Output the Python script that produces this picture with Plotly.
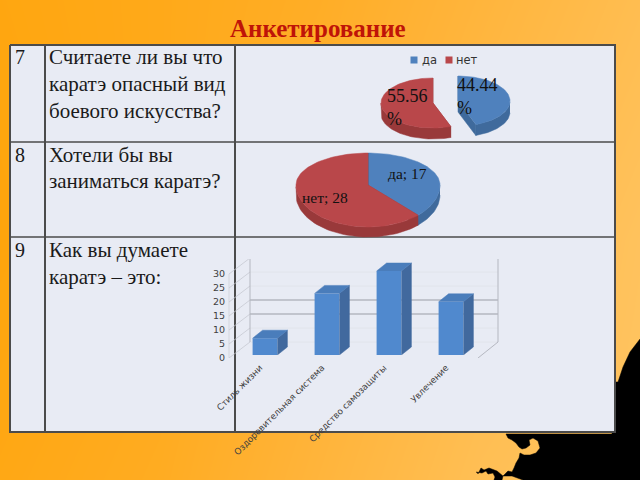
import math
import plotly.graph_objects as go

# ---------- data ----------
pie1_labels = ["да", "нет"]
pie1_values = [44.44, 55.56]
pie2_labels = ["да", "нет"]
pie2_values = [17, 28]
bar_categories = ["Стиль жизни", "Оздоровительная система", "Средство самозащиты", "Увлечение"]
bar_values = [6, 22, 30, 19]
value_ticks = [0, 5, 10, 15, 20, 25, 30]
row_numbers = ["7", "8", "9"]
row_text = [
    ["Считаете ли вы что", "каратэ опасный вид", "боевого искусства?"],
    ["Хотели бы вы", "заниматься каратэ?"],
    ["Как вы думаете", "каратэ – это:"],
]
title_text = "Анкетирование"
# background brightness, estimated on a coarse grid (rows top to bottom)
bg_levels = [
    [0.05, 0.15, 0.30, 0.55, 0.80],
    [0.00, 0.15, 0.40, 0.70, 0.95],
    [0.10, 0.25, 0.55, 0.85, 1.00],
]

W, H = 640, 480
PANEL = "#E8EBF4"
BORDER = "#4B4B4B"
BLUE, BLUE_D = "#4F81BD", "#3F6A9C"
RED, RED_D = "#B9474A", "#99393A"
BAR_F, BAR_T, BAR_S = "#5089CE", "#4A7DBB", "#41699E"
WALL = "#B4B7C0"

fig = go.Figure()


def poly(xs, ys, fill, xa="x", ya="y"):
    fig.add_trace(go.Scatter(x=xs, y=ys, mode="lines", fill="toself", fillcolor=fill,
                             line=dict(color=fill, width=0.5), xaxis=xa, yaxis=ya,
                             hoverinfo="skip", showlegend=False))


def line(xs, ys, color, width, xa="x", ya="y"):
    fig.add_trace(go.Scatter(x=xs, y=ys, mode="lines", line=dict(color=color, width=width),
                             xaxis=xa, yaxis=ya, hoverinfo="skip", showlegend=False))


# ---------- background ----------
fig.add_trace(go.Heatmap(z=bg_levels, x=[0, 160, 320, 480, 640], y=[0, 240, 480],
                         zsmooth="best", zmin=0, zmax=1, showscale=False, hoverinfo="skip",
                         colorscale=[[0, "#FFA50C"], [0.5, "#FFB338"], [1, "#FFC461"]]))
poly([640, 630, 623, 618, 612, 612, 506, 508, 512, 516, 519, 522, 526, 530, 529, 533, 538, 540, 536, 530, 524, 520,
      519, 516, 514, 512, 508, 503, 512, 518, 523, 528, 640],
     [339, 352, 367, 382, 382, 434, 434, 438, 440, 443, 447, 449, 448, 445, 440, 438, 441, 448, 453, 455, 455, 453,
      458, 463, 468, 472, 471, 476, 476, 478, 480, 480, 480], "#000000")
poly([476, 482, 486, 488, 493, 495, 494, 498, 502, 503, 500, 497, 489, 484, 481, 478],
     [472, 473, 471, 474, 473, 477, 480, 480, 480, 476, 473, 471, 468, 470, 468, 474], "#000000")

# ---------- table ----------
poly([10, 615, 615, 10], [45, 45, 432, 432], PANEL)
line([10, 615, 615, 10, 10], [45, 45, 432, 432, 45], BORDER, 2)
line([45, 45], [45, 432], BORDER, 2)
line([235, 235], [45, 432], BORDER, 2)
line([10, 615], [142, 142], BORDER, 1.6)
line([10, 615], [237, 237], BORDER, 1.6)


# ---------- pseudo-3D pies: wedges are computed from the values ----------
def pt(cx, cy, rx, ry_up, ry_lo, deg):
    a = math.radians(deg)
    c = math.cos(a)
    return cx + rx * math.sin(a), cy - c * (ry_up if c > 0 else ry_lo)


def wedge(cx, cy, rx, ry_up, ry_lo, a0, a1, depth, top, side):
    steps = [a0 + (a1 - a0) * i / 80 for i in range(81)]
    arc = [pt(cx, cy, rx, ry_up, ry_lo, d) for d in steps]
    for d in (a0, a1):
        ex, ey = pt(cx, cy, rx, ry_up, ry_lo, d)
        poly([cx, ex, ex, cx], [cy, ey, ey + depth, cy + depth], side)
    rim = [p for d, p in zip(steps, arc) if 90 <= d <= 270]
    if rim:
        poly([p[0] for p in rim] + [p[0] for p in rim[::-1]],
             [p[1] for p in rim] + [p[1] + depth for p in rim[::-1]], side)
    poly([cx] + [p[0] for p in arc], [cy] + [p[1] for p in arc], top)


def pie3d(values, centers, rx, ry_up, ry_lo, depth):
    total = sum(values)
    a = 0.0
    for v, (cx, cy), top, side in zip(values, centers, (BLUE, RED), (BLUE_D, RED_D)):
        b = a + 360 * v / total
        wedge(cx, cy, rx, ry_up, ry_lo, a, b, depth, top, side)
        a = b


pie3d(pie1_values, [(458, 101), (433, 103)], 52, 25, 25, 11)
pie3d(pie2_values, [(368, 185), (368, 185)], 72, 32, 42, 10)

# legend
fig.add_trace(go.Scatter(x=[414, 449], y=[60, 60], mode="markers",
                         marker=dict(symbol="square", size=7, color=[BLUE, RED]),
                         hoverinfo="skip", showlegend=False))

# ---------- 3D column chart: walls on x2/y2, columns on x3/y3 ----------
PX = 2.8  # pixels per value unit
wall_dy = 16 / PX
top_v = max(value_ticks)
fig.add_trace(go.Scatter(x=[229, 229], y=[0, top_v], mode="lines", line=dict(color="#D3D6DE", width=1),
                         xaxis="x2", yaxis="y2", hoverinfo="skip", showlegend=False))
for t in value_ticks:
    strong = t in (10, 15)
    line([229, 250], [t, t + wall_dy], "#C6C9D2", 0.8, "x2", "y2")
    line([250, 498], [t + wall_dy, t + wall_dy], WALL if strong or t == top_v else "#DFE2EA",
         1.3 if strong or t == top_v else 0.8, "x2", "y2")
line([250, 250], [wall_dy, top_v + wall_dy], WALL, 1, "x2", "y2")
line([498, 498], [wall_dy, top_v + wall_dy], WALL, 1, "x2", "y2")
line([478, 498], [0, wall_dy], "#A8ABB4", 0.8, "x2", "y2")

BAR_W = 0.4
dx = 10 / 62
dy = 8 / PX
for i, v in enumerate(bar_values):
    l, r = i - BAR_W / 2, i + BAR_W / 2
    poly([r, r + dx, r + dx, r], [0, dy, v + dy, v], BAR_S, "x3", "y3")
    poly([l, l + dx, r + dx, r], [v, v + dy, v + dy, v], BAR_T, "x3", "y3")
fig.add_trace(go.Bar(x=list(range(len(bar_values))), y=bar_values, width=BAR_W,
                     marker=dict(color=BAR_F, line=dict(width=0)),
                     xaxis="x3", yaxis="y3", hoverinfo="skip", showlegend=False))


# ---------- text ----------
def text(x, y, s, size, family="Liberation Serif", color="#1A1A1A", anchor="left", bold=False):
    fig.add_annotation(x=x, y=y, xref="x", yref="y", text=f"<b>{s}</b>" if bold else s, showarrow=False,
                       xanchor=anchor, yanchor="middle", align=anchor, borderpad=0, borderwidth=0,
                       font=dict(family=family, size=size, color=color))


text(318, 28, title_text, 25, color="#BF1408", anchor="center", bold=True)
for n, y in zip(row_numbers, (57, 155, 250)):
    text(15, y, n, 20)
line_y = [[57, 84, 111], [155, 181], [250, 277]]
for lines, ys in zip(row_text, line_y):
    for s, y in zip(lines, ys):
        text(49, y, s, 21)

text(422, 60, pie1_labels[0], 11.5, "DejaVu Sans", "#333333")
text(456, 60, pie1_labels[1], 11.5, "DejaVu Sans", "#333333")
share = [100 * v / sum(pie1_values) for v in pie1_values]
text(457, 96, f"{share[0]:.2f}<br>%", 18, "Liberation Serif", "#111111")
text(387, 107, f"{share[1]:.2f}<br>%", 18, "Liberation Serif", "#111111")
text(388, 173, f"{pie2_labels[0]}; {pie2_values[0]}", 15.5, "Liberation Serif", "#111111")
text(302, 197, f"{pie2_labels[1]}; {pie2_values[1]}", 15.5, "Liberation Serif", "#111111")

off = dict(visible=False, showgrid=False, zeroline=False, automargin=False)
fig.update_layout(
    template="none",
    width=W, height=H, margin=dict(l=0, r=0, t=0, b=0, pad=0),
    paper_bgcolor="#FFB338", plot_bgcolor="rgba(0,0,0,0)", showlegend=False, barmode="overlay",
    xaxis=dict(range=[0, W], domain=[0, 1], **off),
    yaxis=dict(range=[H, 0], domain=[0, 1], **off),
    xaxis2=dict(range=[228, 640], domain=[228 / W, 1], anchor="y2", **off),
    yaxis2=dict(range=[0, 99 / PX], domain=[(H - 358) / H, (H - 259) / H], anchor="x2", tickvals=value_ticks,
                showgrid=False, zeroline=False, showline=False, ticks="", automargin=False,
                ticklabelstandoff=2, tickfont=dict(family="DejaVu Sans", size=9.5, color="#404040")),
    xaxis3=dict(range=[-0.5, 3.5], domain=[234 / W, 482 / W], anchor="y3", tickmode="array",
                tickvals=list(range(len(bar_categories))), ticktext=bar_categories, tickangle=-45,
                showgrid=False, zeroline=False, showline=False, ticks="", automargin=False,
                ticklabelstandoff=5, ticklabelshift=-5,
                tickfont=dict(family="DejaVu Sans", size=8.8, color="#404040")),
    yaxis3=dict(range=[0, 96 / PX], domain=[(H - 355) / H, (H - 259) / H], anchor="x3", **off),
)
fig.write_html("out.html", config={"displayModeBar": False},
               post_script="document.body.style.margin='0';document.documentElement.style.overflow='hidden';")
